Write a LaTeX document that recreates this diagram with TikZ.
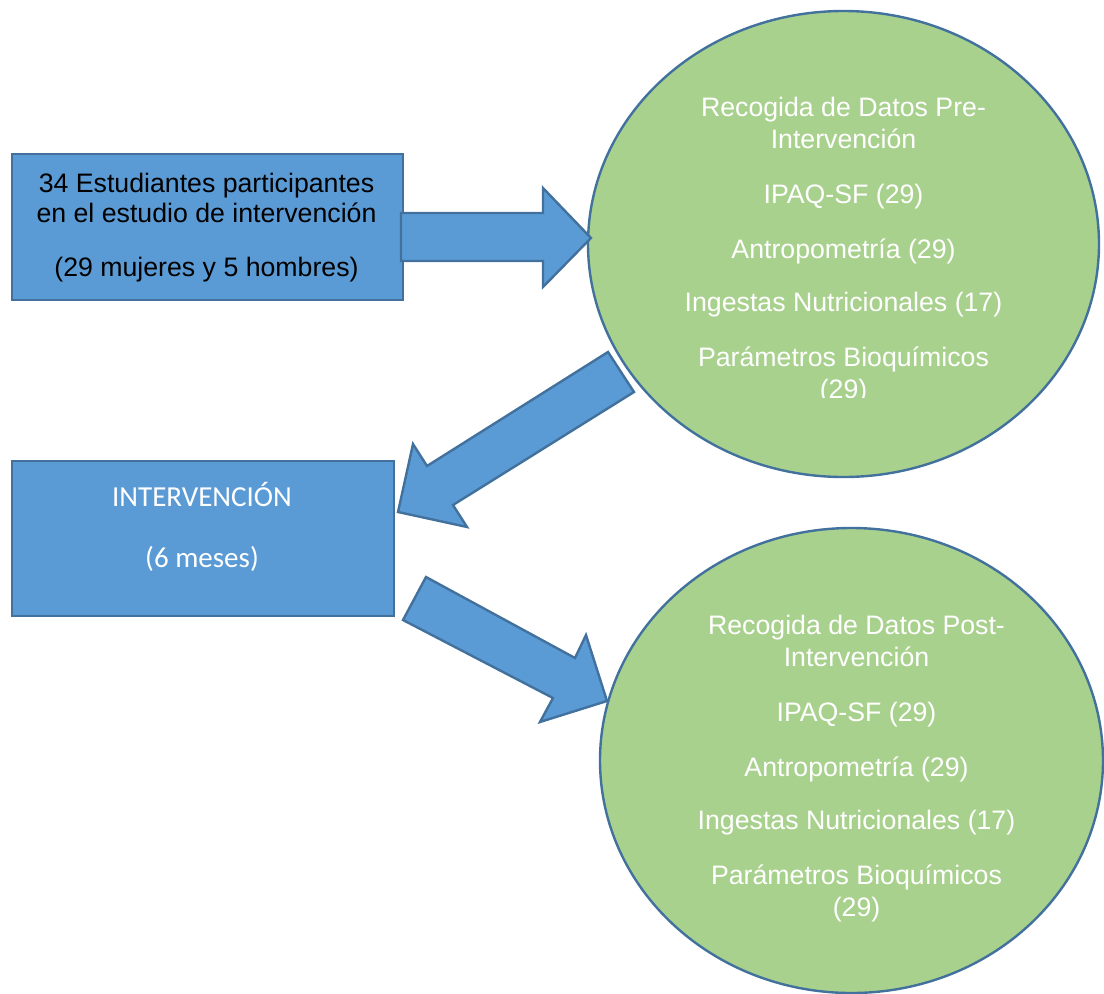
\documentclass[tikz,border=0pt]{standalone}
\usepackage{fontspec}
\setmainfont{Liberation Sans}
\newfontfamily\calibrifont{Carlito}
\usetikzlibrary{shapes.geometric}
\definecolor{boxblue}{HTML}{5B9BD5}
\definecolor{edgeblue}{HTML}{41719C}
\definecolor{leafgreen}{HTML}{A9D18E}
\begin{document}
\begin{tikzpicture}[x=1pt,y=-1pt,
  outline/.style={draw=edgeblue, line width=2.4pt, line join=miter},
  bluebox/.style={outline, fill=boxblue, rectangle, inner sep=0pt, anchor=north west},
  datacircle/.style={outline, fill=leafgreen, ellipse, inner sep=0pt},
  blockarrow/.style={outline, fill=boxblue},
  arialtext/.style={font=\fontsize{26.7}{30}\selectfont, inner sep=0pt, anchor=base},
  circletext/.style={arialtext, text=white},
  calibtext/.style={font=\calibrifont\fontsize{29}{34}\selectfont, inner sep=0pt, anchor=base, text=white},
  ]
\useasboundingbox (0,0) rectangle (1104,994);

% data collection ellipses
\node[datacircle, minimum width=511pt, minimum height=466pt] (pre) at (843.5,244) {};
\node[datacircle, minimum width=503pt, minimum height=465pt] (post) at (851.5,760.5) {};

% participant and intervention boxes
\node[bluebox, minimum width=391pt, minimum height=146pt] (start) at (11,153) {};
\node[bluebox, minimum width=382pt, minimum height=155pt] (interv) at (11,460) {};

% block arrows
\draw[blockarrow] (401,213) -- (543,213) -- (543,188) -- (591,238) -- (543,287) -- (543,261) -- (401,261) -- cycle;
\draw[blockarrow] (608,352) -- (427,466) -- (413,444) -- (398,512) -- (467,527) -- (453,505) -- (634,392) -- cycle;
\draw[blockarrow] (426,577) -- (575,658) -- (586,635) -- (607,701) -- (540,722) -- (553,698) -- (403,620) -- cycle;

% box texts
\node[arialtext] (s1) at (206.5,192) {34 Estudiantes participantes};
\node[arialtext] (s2) at (206.5,222) {en el estudio de intervención};
\node[arialtext] (s3) at (206.5,276) {(29 mujeres y 5 hombres)};
\node[calibtext] (i1) at (202,506) {INTERVENCIÓN};
\node[calibtext] (i2) at (202,567) {(6 meses)};

% texts inside the ellipses
\begin{scope}
  \clip (0,0) rectangle (1104,397);
  \foreach \yy/\txt [count=\i] in {116/Recogida de Datos Pre-, 148/Intervención, 203/IPAQ-SF (29),
      258/Antropometría (29), 311/Ingestas Nutricionales (17), 366/Parámetros Bioquímicos, 398/(29)}
    \node[circletext] (pre\i) at (843.5,\yy) {\txt};
\end{scope}
\foreach \yy/\txt [count=\i] in {634/Recogida de Datos Post-, 666/Intervención, 721/IPAQ-SF (29),
    776/Antropometría (29), 829/Ingestas Nutricionales (17), 884/Parámetros Bioquímicos, 916/(29)}
  \node[circletext] (post\i) at (856.5,\yy) {\txt};
\end{tikzpicture}
\end{document}
